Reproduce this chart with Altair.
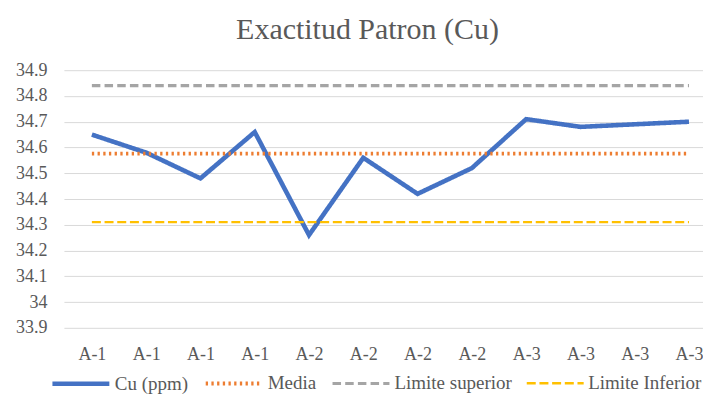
import altair as alt
import pandas as pd

# --- data ---
labels = ["A-1", "A-1", "A-1", "A-1", "A-2", "A-2", "A-2", "A-2", "A-3", "A-3", "A-3", "A-3"]
cu_ppm = [34.65, 34.58, 34.48, 34.66, 34.26, 34.56, 34.42, 34.52, 34.71, 34.68, 34.69, 34.70]
media = 34.576
limite_superior = 34.84
limite_inferior = 34.31
y_ticks = [33.9, 34.0, 34.1, 34.2, 34.3, 34.4, 34.5, 34.6, 34.7, 34.8, 34.9]
series = ["Cu (ppm)", "Media", "Limite superior", "Limite Inferior"]
colors = ["#4472C4", "#ED7D31", "#A5A5A5", "#FFC000"]

rows = []
for i, v in enumerate(cu_ppm):
    rows.append({"idx": i, "serie": series[0], "valor": v})
for name, val in zip(series[1:], [media, limite_superior, limite_inferior]):
    for i in range(len(labels)):
        rows.append({"idx": i, "serie": name, "valor": val})
df = pd.DataFrame(rows)

label_expr = "[" + ",".join(f"'{l}'" for l in labels) + "][datum.value]"

FONT = "Liberation Serif, Times New Roman, serif"
TXT = "#595959"

leg = alt.Legend(
    title=None,
    orient="none",
    legendX=-14,
    legendY=283,
    direction="horizontal",
    symbolType="stroke",
    symbolSize=3249,
    labelFont=FONT,
    labelFontSize=19,
    labelColor=TXT,
    labelOffset=3,
    columnPadding=9,
    padding=0,
)

chart = alt.Chart(df).mark_line(strokeCap="butt").encode(
    x=alt.X(
        "idx:Q",
        scale=alt.Scale(domain=[-0.515, 11.258], nice=False, zero=False),
        axis=alt.Axis(
            title=None, values=list(range(len(labels))), labelExpr=label_expr,
            labelAngle=0, labelFont=FONT, labelFontSize=18, labelColor=TXT,
            labelPadding=18, ticks=False, domain=False, grid=False, labelFlush=False,
            labelOverlap=False,
        ),
    ),
    y=alt.Y(
        "valor:Q",
        scale=alt.Scale(domain=[33.9, 34.9], nice=False, zero=False),
        axis=alt.Axis(
            title=None, values=y_ticks, format=".1~f", labelFont=FONT,
            labelFontSize=18, labelColor=TXT, labelPadding=17, ticks=False,
            domain=False, grid=True, gridColor="#D9D9D9", gridWidth=1,
        ),
    ),
    color=alt.Color("serie:N", scale=alt.Scale(domain=series, range=colors), legend=leg),
    strokeDash=alt.StrokeDash(
        "serie:N",
        scale=alt.Scale(domain=series, range=[[1, 0], [2.3, 3.4], [8.5, 4.2], [9, 3.7]]),
        legend=leg,
    ),
    strokeWidth=alt.StrokeWidth(
        "serie:N",
        scale=alt.Scale(domain=series, range=[4.6, 2.3, 2.7, 3.3]),
        legend=leg,
    ),
).properties(
    width=640,
    height=258,
    title=alt.TitleParams(
        "Exactitud Patron (Cu)", font=FONT, fontSize=30, fontWeight="normal",
        color=TXT, anchor="middle", dx=-16, offset=16,
    ),
    autosize=alt.AutoSizeParams(type="none"),
    padding={"left": 56, "top": 62, "right": 0, "bottom": 76},
).configure_view(stroke=None)

chart.save("out.html", embed_options={"renderer": "svg", "actions": False})
